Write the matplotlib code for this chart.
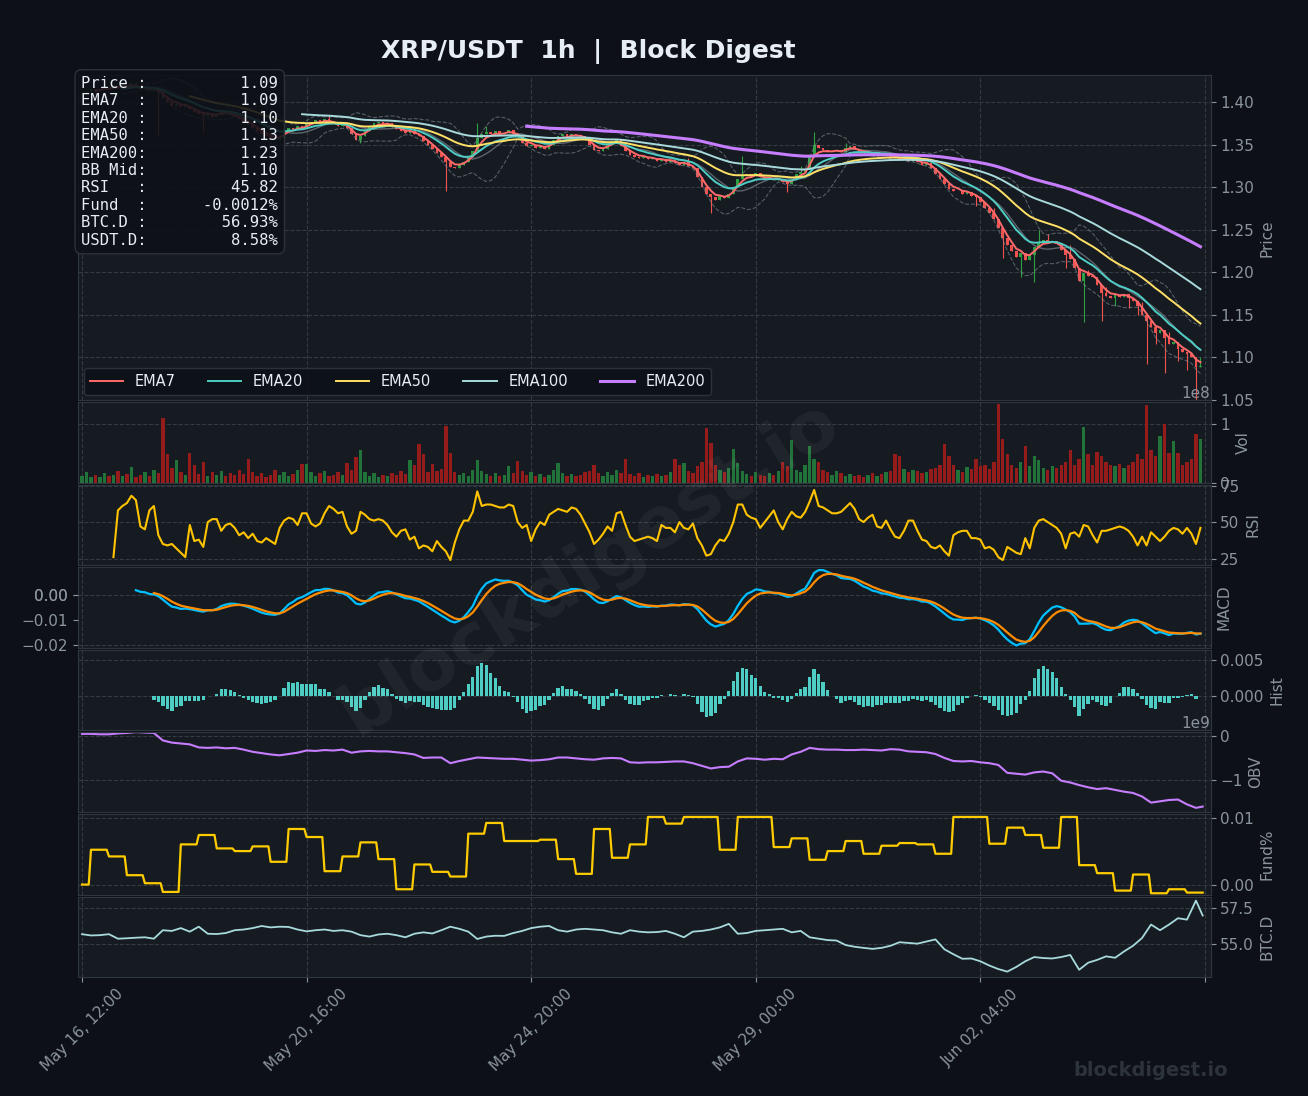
import numpy as np
import pandas as pd
import matplotlib
matplotlib.use('Agg')
import matplotlib.pyplot as plt
from matplotlib.ticker import MultipleLocator, FuncFormatter

BG = '#0d1117'
PANEL = '#161b22'
GRID = '#353b44'
SPINE = '#30363d'
TXT = '#8b949e'
WHITE = '#e6edf3'

# ---- data (2h closes) ----
close = [
    1.410, 1.412, 1.415, 1.413, 1.416, 1.418, 1.415, 1.419, 1.417, 1.420,
    1.418, 1.421, 1.419, 1.416, 1.418, 1.414, 1.416, 1.412,
    1.405, 1.400, 1.396, 1.398,
    1.394, 1.396, 1.392, 1.389,
    1.386, 1.384, 1.387, 1.383, 1.385,
    1.389, 1.387, 1.386, 1.383, 1.380, 1.377,
    1.374, 1.370, 1.366, 1.362, 1.360, 1.358, 1.356, 1.358,
    1.366, 1.370, 1.368, 1.372, 1.370, 1.374,
    1.377, 1.379, 1.376, 1.380, 1.378, 1.375,
    1.372, 1.374, 1.370,
    1.362, 1.356, 1.360, 1.366,
    1.372, 1.375, 1.377, 1.374, 1.376,
    1.371, 1.368, 1.366, 1.364, 1.366, 1.362, 1.360,
    1.354, 1.350, 1.345, 1.340, 1.335, 1.330, 1.324,
    1.322, 1.326, 1.330, 1.336,
    1.342, 1.358,
    1.362, 1.365, 1.363, 1.366, 1.362, 1.364, 1.367, 1.363, 1.360,
    1.352, 1.348, 1.350, 1.346, 1.348, 1.345, 1.350,
    1.356, 1.360, 1.362, 1.359, 1.363, 1.361, 1.360,
    1.356, 1.350, 1.344, 1.342, 1.345,
    1.350, 1.354, 1.356, 1.348,
    1.342, 1.338, 1.336, 1.334,
    1.336, 1.333, 1.334, 1.331, 1.333, 1.330, 1.332,
    1.328, 1.326, 1.329, 1.325, 1.322,
    1.312, 1.300, 1.292,
    1.288, 1.285, 1.289, 1.287,
    1.292, 1.300, 1.310,
    1.314, 1.316, 1.313, 1.317,
    1.312, 1.309, 1.311, 1.308, 1.310,
    1.306, 1.304, 1.308,
    1.315, 1.318, 1.320,
    1.338, 1.350,
    1.346, 1.344, 1.342,
    1.342, 1.344, 1.341, 1.346, 1.348,
    1.345, 1.342, 1.340, 1.341, 1.338, 1.340, 1.337, 1.339, 1.336,
    1.335, 1.333, 1.334, 1.331, 1.333, 1.330,
    1.326, 1.328,
    1.322, 1.316, 1.310, 1.304,
    1.298, 1.295, 1.296, 1.292, 1.294, 1.290,
    1.288, 1.282, 1.276, 1.270,
    1.262, 1.252,
    1.240, 1.232, 1.225,
    1.218, 1.222, 1.214,
    1.220, 1.230, 1.236,
    1.238, 1.235, 1.237, 1.233,
    1.226, 1.220, 1.215, 1.205,
    1.190, 1.199, 1.196,
    1.194, 1.185, 1.176,
    1.172, 1.170, 1.173, 1.171, 1.174,
    1.170, 1.166, 1.160,
    1.150, 1.142, 1.135,
    1.128, 1.132, 1.122,
    1.115, 1.118, 1.110,
    1.106, 1.104, 1.100,
    1.088, 1.090,
]

# long wicks that stand out (bar index -> price)
wick_low = {17: 1.361, 27: 1.365, 62: 1.352, 81: 1.296, 140: 1.269, 157: 1.294,
            199: 1.278, 205: 1.217, 209: 1.194, 212: 1.188, 219: 1.205, 223: 1.141,
            227: 1.143, 230: 1.160, 233: 1.158, 235: 1.150, 237: 1.092, 239: 1.115,
            241: 1.081, 244: 1.095, 246: 1.085, 248: 1.050}
wick_high = {55: 1.384, 88: 1.376, 90: 1.372, 135: 1.334, 147: 1.337, 160: 1.325,
             163: 1.365, 170: 1.352, 203: 1.275, 213: 1.249, 215: 1.245, 220: 1.232,
             224: 1.202, 228: 1.182, 236: 1.165, 242: 1.130, 249: 1.100}

# volume per bar, 1e8
volume = [
    0.12, 0.18, 0.10, 0.14, 0.09, 0.16, 0.11, 0.13, 0.20, 0.12,
    0.15, 0.27, 0.10, 0.13, 0.18, 0.12, 0.22, 0.16, 1.09, 0.49,
    0.25, 0.39, 0.18, 0.14, 0.50, 0.30, 0.15, 0.36, 0.12, 0.18,
    0.14, 0.20, 0.11, 0.17, 0.13, 0.22, 0.15, 0.41, 0.19, 0.12,
    0.16, 0.10, 0.14, 0.21, 0.13, 0.18, 0.12, 0.15, 0.22, 0.31,
    0.31, 0.18, 0.12, 0.16, 0.20, 0.11, 0.14, 0.19, 0.13, 0.34,
    0.22, 0.43, 0.55, 0.18, 0.12, 0.16, 0.10, 0.14, 0.12, 0.17,
    0.13, 0.20, 0.15, 0.38, 0.30, 0.66, 0.49, 0.18, 0.31, 0.20,
    0.24, 0.96, 0.50, 0.18, 0.13, 0.16, 0.12, 0.22, 0.39, 0.20,
    0.15, 0.12, 0.17, 0.11, 0.14, 0.28, 0.16, 0.37, 0.20, 0.13,
    0.18, 0.12, 0.15, 0.10, 0.14, 0.22, 0.34, 0.17, 0.12, 0.15,
    0.11, 0.14, 0.18, 0.20, 0.30, 0.16, 0.12, 0.18, 0.14, 0.22,
    0.17, 0.40, 0.15, 0.12, 0.16, 0.10, 0.13, 0.11, 0.15, 0.12,
    0.14, 0.18, 0.40, 0.30, 0.34, 0.20, 0.16, 0.28, 0.35, 0.92,
    0.68, 0.30, 0.22, 0.18, 0.25, 0.57, 0.33, 0.20, 0.15, 0.12,
    0.18, 0.14, 0.11, 0.16, 0.13, 0.20, 0.35, 0.28, 0.73, 0.22,
    0.18, 0.30, 0.63, 0.40, 0.35, 0.22, 0.18, 0.14, 0.20, 0.16,
    0.12, 0.15, 0.11, 0.14, 0.10, 0.13, 0.16, 0.12, 0.15, 0.18,
    0.20, 0.49, 0.45, 0.24, 0.18, 0.22, 0.20, 0.16, 0.19, 0.24,
    0.25, 0.30, 0.66, 0.45, 0.30, 0.22, 0.18, 0.26, 0.24, 0.40,
    0.28, 0.30, 0.24, 0.35, 1.33, 0.74, 0.49, 0.30, 0.25, 0.35,
    0.63, 0.28, 0.45, 0.38, 0.25, 0.22, 0.28, 0.25, 0.30, 0.35,
    0.55, 0.30, 0.40, 0.95, 0.49, 0.30, 0.52, 0.45, 0.35, 0.30,
    0.28, 0.32, 0.25, 0.30, 0.35, 0.49, 0.40, 1.31, 0.55, 0.45,
    0.80, 1.00, 0.50, 0.70, 0.50, 0.30, 0.35, 0.40, 0.82, 0.74,
]

# RSI per bar, starting at bar 7
RSI_START = 7
rsi = [
    26, 58, 61, 63, 68, 65, 47, 45, 58, 61,
    41, 35, 34, 35, 32, 29, 26, 48, 37, 38,
    33, 50, 52, 52, 44, 48, 49, 46, 41, 43,
    39, 42, 37, 36, 39, 37, 35, 46, 51, 53,
    52, 48, 56, 56, 49, 47, 49, 56, 61, 59,
    56, 57, 47, 42, 44, 57, 55, 52, 51, 52,
    51, 48, 43, 40, 44, 45, 38, 40, 32, 34,
    33, 30, 37, 33, 30, 24, 36, 45, 51, 51,
    57, 71, 61, 62, 62, 61, 60, 60, 62, 61,
    50, 46, 48, 37, 45, 50, 48, 55, 57, 59,
    58, 57, 60, 59, 55, 49, 43, 35, 38, 42,
    47, 44, 56, 57, 48, 40, 37, 38, 39, 40,
    39, 37, 48, 46, 46, 43, 50, 46, 45, 49,
    39, 34, 27, 28, 34, 38, 37, 42, 50, 62,
    62, 55, 53, 52, 46, 50, 54, 58, 50, 45,
    52, 57, 54, 53, 57, 64, 72, 61, 60, 58,
    56, 56, 57, 60, 63, 59, 52, 50, 53, 55,
    47, 46, 51, 45, 40, 39, 44, 51, 51, 44,
    38, 37, 33, 32, 34, 30, 27, 41, 43, 44,
    44, 39, 39, 38, 32, 33, 31, 26, 24, 33,
    31, 29, 28, 39, 32, 46, 51, 52, 50, 48,
    46, 42, 32, 42, 43, 40, 48, 47, 41, 36,
    44, 44, 45, 46, 47, 46, 44, 40, 34, 40,
    34, 43, 40, 37, 40, 44, 46, 45, 42, 46,
    42, 35, 46,
]

# OBV every 4h (1e9), last point at hour 499
obv = [
    0.05, 0.05, 0.04, 0.04, 0.06, 0.07, 0.09, 0.08, 0.07, -0.10,
    -0.15, -0.17, -0.19, -0.26, -0.27, -0.26, -0.28, -0.27, -0.31, -0.36,
    -0.39, -0.42, -0.44, -0.41, -0.38, -0.33, -0.34, -0.32, -0.33, -0.31,
    -0.38, -0.35, -0.34, -0.35, -0.35, -0.37, -0.39, -0.42, -0.50, -0.49,
    -0.49, -0.62, -0.57, -0.53, -0.49, -0.50, -0.51, -0.52, -0.52, -0.54,
    -0.56, -0.55, -0.53, -0.49, -0.49, -0.51, -0.53, -0.54, -0.51, -0.50,
    -0.51, -0.60, -0.61, -0.60, -0.60, -0.59, -0.58, -0.58, -0.62, -0.68,
    -0.74, -0.71, -0.70, -0.58, -0.51, -0.52, -0.54, -0.52, -0.53, -0.42,
    -0.36, -0.27, -0.30, -0.31, -0.31, -0.32, -0.32, -0.31, -0.32, -0.33,
    -0.30, -0.31, -0.35, -0.36, -0.37, -0.41, -0.50, -0.57, -0.58, -0.57,
    -0.60, -0.62, -0.66, -0.84, -0.86, -0.88, -0.83, -0.81, -0.85, -1.02,
    -1.06, -1.12, -1.17, -1.21, -1.19, -1.23, -1.27, -1.30, -1.38, -1.52,
    -1.49, -1.46, -1.45, -1.56, -1.64, -1.61,
]

# BTC dominance every 4h (%), last point at hour 499
btc_d = [
    55.67, 55.58, 55.60, 55.67, 55.35, 55.38, 55.42, 55.45, 55.35, 55.95,
    55.90, 56.10, 55.85, 56.20, 55.70, 55.68, 55.75, 55.95, 56.00, 56.10,
    56.25, 56.15, 56.20, 56.18, 56.00, 55.87, 55.95, 56.00, 55.90, 55.95,
    55.85, 55.60, 55.50, 55.65, 55.70, 55.60, 55.45, 55.70, 55.80, 55.72,
    55.95, 56.20, 56.05, 55.85, 55.33, 55.50, 55.56, 55.55, 55.75, 55.90,
    56.10, 56.20, 56.25, 55.95, 55.85, 56.00, 56.05, 56.00, 55.95, 55.80,
    55.70, 55.95, 55.85, 55.80, 55.82, 55.90, 55.70, 55.45, 55.85, 55.90,
    56.00, 56.15, 56.40, 55.70, 55.75, 55.90, 55.95, 56.00, 56.05, 55.80,
    55.90, 55.45, 55.35, 55.25, 55.22, 54.90, 54.78, 54.70, 54.63, 54.70,
    54.85, 55.10, 55.05, 55.00, 55.15, 55.30, 54.60, 54.25, 53.93, 53.95,
    53.75, 53.45, 53.20, 53.02, 53.35, 53.75, 54.05, 53.98, 53.95, 54.05,
    54.20, 53.15, 53.65, 53.85, 54.10, 54.00, 54.45, 54.85, 55.40, 56.35,
    55.95, 56.35, 56.80, 56.70, 58.05, 56.99,
]

# funding rate (%): first 4h, then one value per 8h period
fund_first = 0.0
fund = [
    0.0052, 0.0042, 0.0014, 0.0002, -0.0011, 0.0060, 0.0074, 0.0054, 0.0050, 0.0057,
    0.0034, 0.0083, 0.0071, 0.0020, 0.0042, 0.0063, 0.0038, -0.0007, 0.0030, 0.0019,
    0.0012, 0.0076, 0.0092, 0.0065, 0.0065, 0.0067, 0.0038, 0.0016, 0.0083, 0.0040,
    0.0060, 0.0101, 0.0091, 0.0101, 0.0101, 0.0052, 0.0101, 0.0101, 0.0056, 0.0069,
    0.0037, 0.0050, 0.0065, 0.0046, 0.0058, 0.0062, 0.0060, 0.0046, 0.0101, 0.0101,
    0.0061, 0.0085, 0.0074, 0.0055, 0.0101, 0.0029, 0.0017, -0.0009, 0.0015, -0.0013,
    -0.0007, -0.0012,
]

info_rows = [('Price', '1.09'), ('EMA7', '1.09'), ('EMA20', '1.10'), ('EMA50', '1.13'),
             ('EMA200', '1.23'), ('BB Mid', '1.10'), ('RSI', '45.82'),
             ('Fund', '-0.0012%'), ('BTC.D', '56.93%'), ('USDT.D', '8.58%')]

ema_colors = {7: '#ff6b6b', 20: '#4ecdc4', 50: '#ffe066', 100: '#a8dadc', 200: '#c77dff'}

# ---- indicators ----
BAR_H = 2  # hours per bar
times = pd.date_range('2021-05-16 12:00', periods=500, freq='h')
c = pd.Series(close)
o = c.shift(1).fillna(c.iloc[0])
xb = np.arange(len(c)) * BAR_H

hi = np.maximum(o, c).values.copy()
lo = np.minimum(o, c).values.copy()
for k, v in wick_low.items():
    lo[k] = v
for k, v in wick_high.items():
    hi[k] = v

emas = {n: c.ewm(span=n / BAR_H, adjust=False, min_periods=int(round(n / BAR_H))).mean()
        for n in ema_colors}
bb_mid = c.rolling(10).mean()
bb_sd = c.rolling(10).std()

ema_f = c.ewm(span=6, adjust=False, min_periods=13).mean()
ema_s = c.ewm(span=13, adjust=False, min_periods=13).mean()
macd = ema_f - ema_s
signal = macd.ewm(span=4.5, adjust=False, min_periods=5).mean()
hist = macd - signal

up = (c >= o).values
cols = np.where(up, '#2ea043', '#f0524f')
vcols = np.where(up, '#22733a', '#961c1c')

rsi_x = (RSI_START + np.arange(len(rsi))) * BAR_H
obv_x = list(range(0, 500, 4)) + [499]
fund_h = np.concatenate([[fund_first] * 4, np.repeat(fund, 8)])

# ---- figure ----
fig = plt.figure(figsize=(13.08, 10.96), dpi=100, facecolor=BG)
gs = fig.add_gridspec(8, 1, height_ratios=[4.05, 1, 1, 1, 1, 1, 1, 1], hspace=0.018,
                      left=0.0596, right=0.9255, top=0.9316, bottom=0.1086)
ax0 = fig.add_subplot(gs[0])
axs = [ax0] + [fig.add_subplot(gs[k], sharex=ax0) for k in range(1, 8)]
ax_p, ax_v, ax_r, ax_m, ax_h, ax_o, ax_f, ax_b = axs

for ax in axs:
    ax.set_facecolor(PANEL)
    for s in ax.spines.values():
        s.set_color(SPINE)
    ax.grid(True, ls='--', color=GRID, lw=0.8)
    ax.set_axisbelow(True)
    ax.yaxis.tick_right()
    ax.yaxis.set_label_position('right')
    ax.tick_params(colors=TXT, labelsize=11)
    ax.yaxis.get_offset_text().set_color(TXT)
    ax.yaxis.get_offset_text().set_fontsize(11)
for ax in axs[:-1]:
    ax.tick_params(axis='x', labelbottom=False, bottom=False)

# price
ax_p.vlines(xb, lo, hi, colors=cols, lw=0.8)
body = (c - o).values
body = np.where(np.abs(body) < 4e-4, 4e-4, body)
ax_p.bar(xb, body, bottom=o.values, width=1.2, color=cols, linewidth=0)
ax_p.plot(xb, bb_mid + 2 * bb_sd, color=TXT, lw=0.8, ls='--', alpha=0.55)
ax_p.plot(xb, bb_mid - 2 * bb_sd, color=TXT, lw=0.8, ls='--', alpha=0.55)
ax_p.plot(xb, bb_mid, color=TXT, lw=1.0, alpha=0.6)
for n, col in ema_colors.items():
    ax_p.plot(xb, emas[n], color=col, lw=2.2 if n == 200 else 1.4, label=f'EMA{n}')
ax_p.set_ylim(1.049, 1.432)
ax_p.yaxis.set_major_locator(MultipleLocator(0.05))
ax_p.set_ylabel('Price', color=TXT, fontsize=11)
leg = ax_p.legend(loc='lower left', ncol=5, fontsize=10.5, frameon=True, facecolor=BG,
                  edgecolor=SPINE, framealpha=0.9, labelcolor=WHITE, handlelength=2.3,
                  columnspacing=2.2, borderaxespad=0.4)

info = '\n'.join(f'{k:<6}:{v:>14}' for k, v in info_rows)
ax_p.text(0.003, 0.997, info, transform=ax_p.transAxes, va='top', ha='left',
          family='DejaVu Sans Mono', fontsize=11.2, color=WHITE, linespacing=1.2, zorder=10,
          bbox=dict(boxstyle='round,pad=0.4', facecolor=BG, edgecolor=SPINE, alpha=0.88))

# volume
ax_v.bar(xb, np.array(volume) * 1e8, width=1.5, color=vcols, linewidth=0)
ax_v.set_ylim(0, 1.36e8)
ax_v.set_yticks([0, 1e8])
ax_v.set_ylabel('Vol', color=TXT, fontsize=11)

# rsi
ax_r.plot(rsi_x, rsi, color='#ffc300', lw=1.5)
ax_r.set_ylim(20.5, 75.5)
ax_r.set_yticks([25, 50, 75])
ax_r.set_ylabel('RSI', color=TXT, fontsize=11)

# macd
ax_m.plot(xb, macd, color='#00bfff', lw=1.6)
ax_m.plot(xb, signal, color='#ff8c00', lw=1.6)
ax_m.set_ylim(-0.0212, 0.0112)
ax_m.set_yticks([-0.02, 0.0])
ax_m.set_ylabel('MACD', color=TXT, fontsize=11)
ax_ml = ax_m.twinx()
ax_ml.set_ylim(ax_m.get_ylim())
ax_ml.yaxis.tick_left()
ax_ml.set_yticks([-0.01, 0.0])
ax_ml.tick_params(colors=TXT, labelsize=11)
for s in ax_ml.spines.values():
    s.set_visible(False)

# histogram
ax_h.bar(xb, hist, width=1.5, color='#4ecdc4', linewidth=0)
ax_h.set_ylim(-0.0047, 0.0065)
ax_h.set_yticks([0.0, 0.005])
ax_h.set_ylabel('Hist', color=TXT, fontsize=11)

# obv
ax_o.plot(obv_x, np.array(obv) * 1e9, color='#c77dff', lw=1.5)
ax_o.set_ylim(-1.74e9, 0.095e9)
ax_o.set_yticks([-1e9, 0])
ax_o.set_ylabel('OBV', color=TXT, fontsize=11)

# funding
ax_f.plot(np.arange(500), fund_h, color='#ffcc00', lw=1.6)
ax_f.set_ylim(-0.0015, 0.0105)
ax_f.set_yticks([0.0, 0.01])
ax_f.set_ylabel('Fund%', color=TXT, fontsize=11)

# btc dominance
ax_b.plot(obv_x, btc_d, color='#a8dadc', lw=1.3)
ax_b.set_ylim(52.64, 58.33)
ax_b.set_yticks([55.0, 57.5])
ax_b.set_ylabel('BTC.D', color=TXT, fontsize=11)

ax_b.set_xlim(-1.8, 502.5)
ax_b.xaxis.set_major_locator(MultipleLocator(100))
ax_b.xaxis.set_major_formatter(FuncFormatter(
    lambda v, p: times[int(v)].strftime('%b %d, %H:%M') if 0 <= v < len(times) else ''))
ax_b.tick_params(axis='x', labelsize=11, labelrotation=45)

fig.text(0.45, 0.9526, 'XRP/USDT  1h  |  Block Digest', ha='center', va='center',
         fontsize=18, fontweight='bold', color=WHITE)
fig.text(0.451, 0.482, 'blockdigest.io', ha='center', va='center', rotation=32,
         fontsize=52, fontweight='bold', color='white', alpha=0.05)
fig.text(0.939, 0.0237, 'blockdigest.io', ha='right', va='center', fontsize=14,
         fontweight='bold', color='#2d333b')

fig.savefig('out.png', dpi=100, facecolor=BG)
